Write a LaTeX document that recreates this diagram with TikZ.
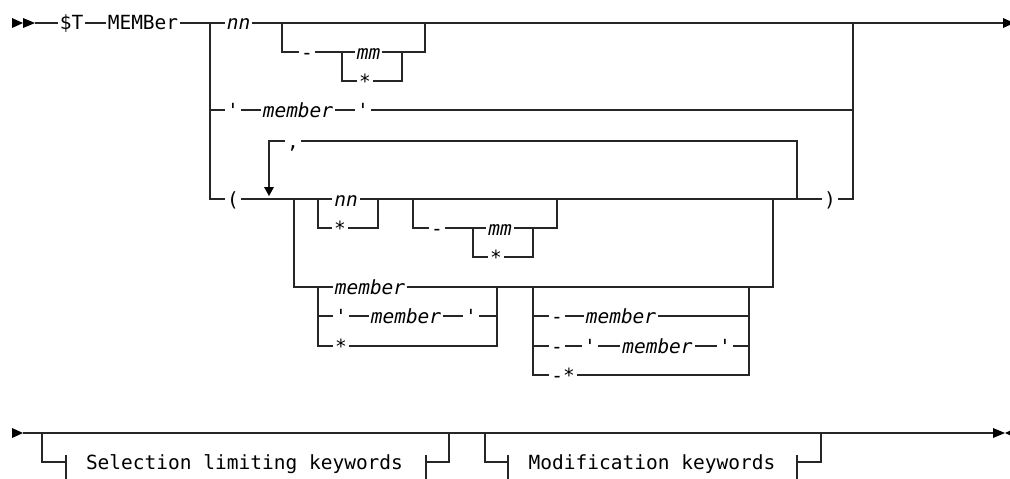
\documentclass[tikz,border=0pt]{standalone}
\usepackage{fontspec}
\setmonofont{DejaVu Sans Mono}
\tikzset{
  rail/.style={line width=1.3pt, draw=black!85},
  kw/.style={font=\ttfamily\fontsize{19.5}{22}\selectfont, fill=white, inner xsep=2pt, inner ysep=0pt, text height=13pt, text depth=3pt, anchor=base},
  var/.style={kw, font=\ttfamily\itshape\fontsize{19.5}{22}\selectfont},
  tipfill/.style={fill=black, draw=none},
}
\begin{document}
\begin{tikzpicture}[x=1pt,y=-1pt]
\useasboundingbox (0,0) rectangle (1010,479);
% ---------- rails, first line ----------
\draw[rail] (35,23) -- (1003,23);
% optional [- mm|*] after nn
\draw[rail] (282,23) -- (282,52) -- (425,52) -- (425,23);
\draw[rail] (342,52) -- (342,81) -- (402,81) -- (402,52);
% main choice
\draw[rail] (210,23) -- (210,199) -- (853,199) -- (853,23);
\draw[rail] (210,110) -- (853,110);
% repeat loop
\draw[rail] (797,199) -- (797,141) -- (269,141) -- (269,188);
% inner choice of the list item
\draw[rail] (294,199) -- (294,287) -- (773,287) -- (773,199);
\draw[rail] (318,199) -- (318,228) -- (378,228) -- (378,199);
\draw[rail] (413,199) -- (413,228) -- (557,228) -- (557,199);
\draw[rail] (473,228) -- (473,257) -- (533,257) -- (533,228);
% member / 'member' / *
\draw[rail] (318,287) -- (318,346) -- (497,346) -- (497,287);
\draw[rail] (318,316) -- (497,316);
% optional -member / -'member' / -*
\draw[rail] (533,287) -- (533,375) -- (749,375) -- (749,287);
\draw[rail] (533,316) -- (749,316);
\draw[rail] (533,346) -- (749,346);
% ---------- second line ----------
\draw[rail] (23,433) -- (993,433);
\draw[rail] (42,433) -- (42,462) -- (66,462);
\draw[rail] (66,455) -- (66,490);
\draw[rail] (426,455) -- (426,490);
\draw[rail] (426,462) -- (449,462) -- (449,433);
\draw[rail] (485,433) -- (485,462) -- (508,462);
\draw[rail] (508,455) -- (508,490);
\draw[rail] (797,455) -- (797,490);
\draw[rail] (797,462) -- (821,462) -- (821,433);
% ---------- arrow tips ----------
\fill[tipfill] (12,18) -- (23,23) -- (12,28) -- cycle;
\fill[tipfill] (23,18) -- (35,23) -- (23,28) -- cycle;
\fill[tipfill] (1003,18) -- (1014,23) -- (1003,28) -- cycle;
\fill[tipfill] (264,187) -- (274,187) -- (269,196) -- cycle;
\fill[tipfill] (12,428) -- (23,433) -- (12,438) -- cycle;
\fill[tipfill] (993,428) -- (1005,433) -- (993,438) -- cycle;
\fill[tipfill] (1016,428) -- (1005,433) -- (1016,438) -- cycle;
% ---------- labels ----------
\node[kw]  (dollarT) at (71.5,30) {\$T};
\node[kw]  (memkw)   at (143,30)  {MEMBer};
\node[var] (nnA)     at (238.5,30) {nn};
\node[kw]  (dashA)   at (307,59)  {-};
\node[var] (mmA)     at (368.5,59) {mm};
\node[kw]  (starA)   at (365,88)  {*};
\node[kw]  (qA)      at (233,117) {'};
\node[var] (memA)    at (298,117) {member};
\node[kw]  (qB)      at (363,117) {'};
\node[kw]  (lp)      at (233,206) {(};
\node[kw]  (comma)   at (293,148) {,};
\node[kw]  (rp)      at (830,206) {)};
\node[var] (nnB)     at (346,206) {nn};
\node[kw]  (starB)   at (340,235) {*};
\node[kw]  (dashB)   at (437,235) {-};
\node[var] (mmB)     at (500,235) {mm};
\node[kw]  (starC)   at (496,264) {*};
\node[var] (memB)    at (370,294) {member};
\node[kw]  (qC)      at (341,323) {'};
\node[var] (memC)    at (406,323) {member};
\node[kw]  (qD)      at (471,323) {'};
\node[kw]  (starD)   at (341,353) {*};
\node[kw]  (dashC)   at (557,323) {-};
\node[var] (memD)    at (621,323) {member};
\node[kw]  (dashD)   at (557,353) {-};
\node[kw]  (qE)      at (590,353) {'};
\node[var] (memE)    at (657.5,353) {member};
\node[kw]  (qF)      at (725,353) {'};
\node[kw]  (dstar)   at (563,382) {-*};
\node[kw]  (sel)     at (244.5,469) {Selection limiting keywords};
\node[kw]  (mod)     at (652,469) {Modification keywords};
\end{tikzpicture}
\end{document}
